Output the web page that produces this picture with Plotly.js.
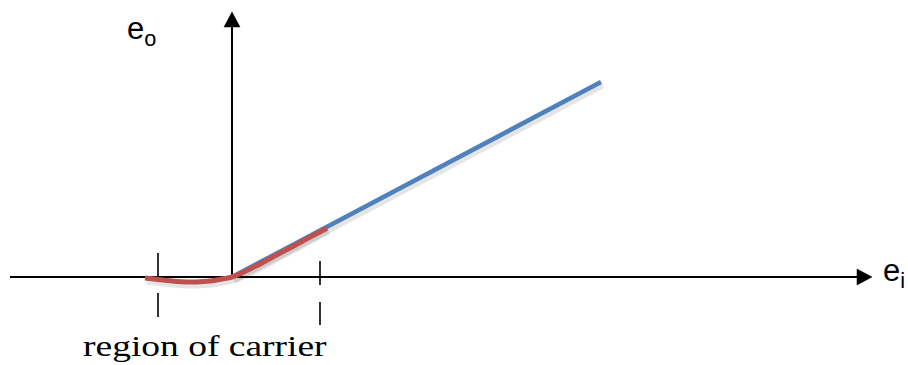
<!DOCTYPE html>
<html>
<head>
<meta charset="utf-8">
<script src="https://cdn.plot.ly/plotly-3.0.1.min.js"></script>
<style>
  html, body { margin: 0; padding: 0; background: #fff; }
  #chart { width: 908px; height: 365px; }
</style>
</head>
<body>
<div id="chart"></div>
<script>
// Transfer characteristic of a detector: output e_o vs input e_i.
// Units: one unit = 10 px on screen, origin where the axes cross.

// Ideal linear response (blue)
const linearX = [0, 36.9];
const linearY = [0, 19.5];

// Actual response near the origin (red), square-law bend
const curveX = [-8.7, -7.4, -6.0, -5.0, -4.2, -3.2, -2.0, -1.0, 0, 1.0, 2.0, 3.0, 4.0, 5.0, 6.0, 7.0, 8.0, 9.5];
const curveY = [-0.1, -0.25, -0.4, -0.47, -0.5, -0.48, -0.38, -0.2, 0, 0.4, 0.9, 1.4, 1.95, 2.5, 3.0, 3.55, 4.1, 4.88];

// Axis extents (tail, tip)
const eiAxis = [-22.2, 64.0];
const eoAxis = [0, 26.5];

// Dashed markers bounding the carrier region
const regionX = [-7.4, 8.8];
const regionTop = [2.4, 1.6];
const regionBottom = [-4.0, -4.8];
const regionDash = ["24px,16px,24px", "24px,17px,23px"];

// Labels
const eoLabel = "e<sub>o</sub>";
const eiLabel = "e<sub>i</sub>";
const regionLabel = "region of carrier";

// arrow head size (axis units) and shadow offset
const headLen = 1.5, headHalf = 0.8;
const shadowDx = 0.15, shadowDy = -0.3;
const shift = (arr, d) => arr.map(v => v + d);

const traces = [];
const plain = { hoverinfo: "skip", showlegend: false };

// soft drop shadows under the two response lines
traces.push(Object.assign({
  x: shift(linearX, shadowDx), y: shift(linearY, shadowDy),
  mode: "lines", line: { color: "rgba(0,0,0,0.10)", width: 7 }
}, plain));
traces.push(Object.assign({
  x: shift(curveX, shadowDx), y: shift(curveY, shadowDy),
  mode: "lines", line: { color: "rgba(0,0,0,0.10)", width: 7, shape: "spline" }
}, plain));

// region markers
regionX.forEach((rx, i) => {
  traces.push(Object.assign({
    x: [rx, rx], y: [regionTop[i], regionBottom[i]],
    mode: "lines", line: { color: "#000", width: 1.6, dash: regionDash[i] }
  }, plain));
});

// horizontal axis (e_i) with its arrow head
const eiBase = eiAxis[1] - headLen;
traces.push(Object.assign({
  x: [eiAxis[0], eiBase], y: [0, 0],
  mode: "lines", line: { color: "#000", width: 2 }
}, plain));
traces.push(Object.assign({
  x: [eiBase, eiAxis[1], eiBase, eiBase], y: [headHalf, 0, -headHalf, headHalf],
  mode: "lines", fill: "toself", fillcolor: "#000", line: { color: "#000", width: 0.5 }
}, plain));

// vertical axis (e_o) with its arrow head
const eoBase = eoAxis[1] - headLen;
traces.push(Object.assign({
  x: [0, 0], y: [eoAxis[0], eoBase],
  mode: "lines", line: { color: "#000", width: 2 }
}, plain));
traces.push(Object.assign({
  x: [-headHalf, 0, headHalf, -headHalf], y: [eoBase, eoAxis[1], eoBase, eoBase],
  mode: "lines", fill: "toself", fillcolor: "#000", line: { color: "#000", width: 0.5 }
}, plain));

traces.push(Object.assign({
  x: linearX, y: linearY,
  mode: "lines", line: { color: "#4F81BD", width: 4.5 }
}, plain));
traces.push(Object.assign({
  x: curveX, y: curveY,
  mode: "lines", line: { color: "#C0504D", width: 5, shape: "spline" }
}, plain));

const labelFont = { family: "Liberation Sans, Arial, sans-serif", size: 31, color: "#000" };

const annotations = [
  { x: -10.7, y: 24.6, xref: "x", yref: "y", xanchor: "left", yanchor: "middle",
    text: eoLabel, showarrow: false, font: labelFont },
  { x: 64.9, y: 0.45, xref: "x", yref: "y", xanchor: "left", yanchor: "middle",
    text: eiLabel, showarrow: false, font: labelFont },
  { x: -15.1, y: -6.85, xref: "x", yref: "y", xanchor: "left", yanchor: "middle",
    text: regionLabel, showarrow: false,
    font: { family: "Liberation Serif, Times New Roman, serif", size: 30, color: "#000" } }
];

const layout = {
  width: 908, height: 365,
  margin: { l: 0, r: 0, t: 0, b: 0, pad: 0 },
  paper_bgcolor: "#fff", plot_bgcolor: "#fff",
  xaxis: { range: [-23.2, 67.6], visible: false, fixedrange: true },
  yaxis: { range: [-8.8, 27.7], visible: false, fixedrange: true },
  annotations: annotations,
  showlegend: false
};

Plotly.newPlot("chart", traces, layout, { staticPlot: true, displayModeBar: false }).then(gd => {
  // the caption is set in a wide serif: stretch it horizontally from its left edge
  const cap = gd.querySelector('.annotation[data-index="2"] text.annotation-text');
  if (cap) {
    cap.style.transformBox = "fill-box";
    cap.style.transformOrigin = "left center";
    cap.style.transform = "scaleX(1.25)";
  }
});
</script>
</body>
</html>
